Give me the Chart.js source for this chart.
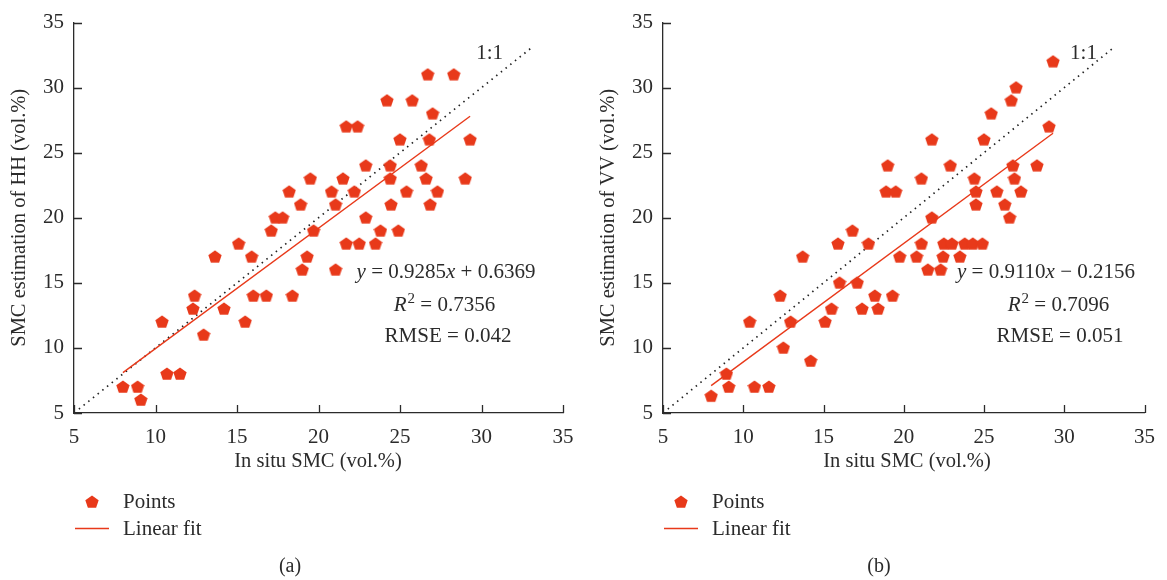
<!DOCTYPE html>
<html>
<head>
<meta charset="utf-8">
<script src="https://cdn.jsdelivr.net/npm/chart.js@4.4.1/dist/chart.umd.min.js"></script>
<style>
  html, body { margin: 0; padding: 0; background: #fff; }
  body { width: 1167px; height: 580px; position: relative; overflow: hidden; }
  .panel { position: absolute; top: 0; height: 580px; }
  #panelA { left: 0; width: 589px; }
  #panelB { left: 589px; width: 578px; }
</style>
</head>
<body>
<div class="panel" id="panelA"><canvas id="chartA"></canvas></div>
<div class="panel" id="panelB"><canvas id="chartB"></canvas></div>
<script>
// HH panel (a)
const hhX = [8.0, 8.9, 9.1, 10.4, 10.7, 11.5, 12.3, 12.4, 12.95, 13.65, 14.2, 15.1, 15.5, 15.9, 16.0, 16.8, 17.1, 17.35, 17.8, 18.2,
  18.4, 18.9, 19.0, 19.3, 19.5, 19.7, 20.8, 21.05, 21.05, 21.5, 21.7, 21.7, 22.2, 22.4, 22.5, 22.9, 22.9, 23.5, 23.8, 24.2,
  24.4, 24.4, 24.45, 24.9, 25.0, 25.4, 25.75, 26.3, 26.6, 26.7, 26.8, 26.85, 27.0, 27.3, 28.3, 29.0, 29.3];
const hhY = [7, 7, 6, 12, 8, 8, 13, 14, 11, 17, 13, 18, 12, 17, 14, 14, 19, 20, 20, 22,
  14, 21, 16, 17, 23, 19, 22, 21, 16, 23, 27, 18, 22, 27, 18, 24, 20, 18, 19, 29,
  24, 23, 21, 19, 26, 22, 29, 24, 23, 31, 26, 21, 28, 22, 31, 23, 26];
const hhFitX = [8.0, 29.3];
const hhFitY = [8.1, 27.8];

// VV panel (b)
const vvX = [8.0, 8.95, 9.1, 10.4, 10.7, 11.6, 12.3, 12.5, 12.95, 13.7, 14.2, 15.1, 15.5, 15.9, 16.0, 16.8, 17.1, 17.4, 17.8, 18.2,
  18.4, 18.9, 19.0, 19.3, 19.5, 19.75, 20.8, 21.1, 21.1, 21.5, 21.75, 21.75, 22.3, 22.45, 22.5, 22.9, 23.0, 23.5, 23.8, 24.3,
  24.4, 24.5, 24.5, 24.9, 25.0, 25.45, 25.8, 26.3, 26.6, 26.7, 26.8, 26.9, 27.0, 27.3, 28.3, 29.05, 29.3];
const vvY = [6.3, 8, 7, 12, 7, 7, 14, 10, 12, 17, 9, 12, 13, 18, 15, 19, 15, 13, 18, 14,
  13, 22, 24, 14, 22, 17, 17, 23, 18, 16, 26, 20, 16, 17, 18, 24, 18, 17, 18, 18,
  23, 22, 21, 18, 26, 28, 22, 21, 20, 29, 24, 23, 30, 22, 24, 27, 32];
const vvFitX = [8.0, 29.3];
const vvFitY = [7.1, 26.5];

// 1:1 reference line
const oneX = [5.3, 33];
const oneY = [5.3, 33];

const axisMin = 5;
const axisMax = 35;
const tickStep = 5;

const RED = "#e8391a";
const INK = "#2b2b2b";
const FONT = "'Liberation Serif', 'DejaVu Serif', serif";

function toPoints(xs, ys) {
  return xs.map((x, i) => ({ x, y: ys[i] }));
}

function pentagonCanvas(size, color) {
  const c = document.createElement("canvas");
  c.width = size;
  c.height = size;
  const g = c.getContext("2d");
  const r = size / 2;
  g.fillStyle = color;
  g.beginPath();
  for (let k = 0; k < 5; k++) {
    const a = -Math.PI / 2 + k * 2 * Math.PI / 5;
    const px = r + r * Math.cos(a);
    const py = r + 0.3 + r * Math.sin(a) * 0.98;
    if (k === 0) g.moveTo(px, py); else g.lineTo(px, py);
  }
  g.closePath();
  g.fill();
  return c;
}

const marker = pentagonCanvas(14, RED);

// draws text pieces (plain / italic / superscript) centred on cx
function drawRich(ctx, parts, cx, cy, size) {
  const fontFor = (p) => `${p.italic ? "italic " : ""}${p.sup ? Math.round(size * 0.7) : size}px ${FONT}`;
  let total = 0;
  for (const p of parts) {
    ctx.font = fontFor(p);
    total += ctx.measureText(p.t).width;
  }
  let x = cx - total / 2;
  ctx.textAlign = "left";
  ctx.textBaseline = "middle";
  for (const p of parts) {
    ctx.font = fontFor(p);
    ctx.fillText(p.t, x + (p.sup ? 1 : 0), p.sup ? cy - size * 0.3 : cy);
    x += ctx.measureText(p.t).width + (p.sup ? 1 : 0);
  }
}

function makePanel(id, cfg) {
  const extras = {
    id: "extras" + id,
    afterDraw(chart) {
      const { ctx, chartArea, scales } = chart;
      const xs = scales.x;
      const ys = scales.y;
      ctx.save();
      // inward tick marks
      ctx.strokeStyle = INK;
      ctx.lineWidth = 1.3;
      ctx.beginPath();
      for (const t of xs.ticks) {
        const px = Math.round(xs.getPixelForValue(t.value)) + 0.5;
        ctx.moveTo(px, chartArea.bottom);
        ctx.lineTo(px, chartArea.bottom - 8);
      }
      for (const t of ys.ticks) {
        const py = Math.round(ys.getPixelForValue(t.value)) + 0.5;
        ctx.moveTo(chartArea.left, py);
        ctx.lineTo(chartArea.left + 8, py);
      }
      ctx.stroke();

      ctx.fillStyle = INK;
      // axis titles
      ctx.font = `20.5px ${FONT}`;
      ctx.textAlign = "center";
      ctx.textBaseline = "middle";
      ctx.fillText("In situ SMC (vol.%)", 318, 462);
      ctx.save();
      ctx.translate(20, (chartArea.top + chartArea.bottom) / 2);
      ctx.rotate(-Math.PI / 2);
      ctx.fillText(cfg.yTitle, 0, 0);
      ctx.restore();

      // 1:1 label
      ctx.font = `21px ${FONT}`;
      ctx.fillText("1:1", xs.getPixelForValue(cfg.oneLabel[0]), ys.getPixelForValue(cfg.oneLabel[1]));

      // fit statistics
      drawRich(ctx, cfg.eqParts, chartArea.left + cfg.textCx[0], 272, 21);
      drawRich(ctx, [{ t: "R", italic: true }, { t: "2", sup: true }, { t: " = " + cfg.r2 }], chartArea.left + cfg.textCx[1], 305, 21);
      drawRich(ctx, [{ t: "RMSE = " + cfg.rmse }], chartArea.left + cfg.textCx[2], 336, 21);

      // legend
      const lx = chartArea.left;
      ctx.drawImage(marker, lx + 11, 495);
      ctx.strokeStyle = RED;
      ctx.lineWidth = 1.3;
      ctx.beginPath();
      ctx.moveTo(lx + 1, 528.5);
      ctx.lineTo(lx + 35, 528.5);
      ctx.stroke();
      ctx.font = `21px ${FONT}`;
      ctx.textAlign = "left";
      ctx.fillText("Points", lx + 49, 502);
      ctx.fillText("Linear fit", lx + 49, 529);

      // caption
      ctx.textAlign = "center";
      ctx.font = `20px ${FONT}`;
      ctx.fillText(cfg.caption, lx + 216, 567);
      ctx.restore();
    }
  };

  return new Chart(document.getElementById(id), {
    type: "scatter",
    data: {
      datasets: [
        {
          label: "Points",
          data: toPoints(cfg.xs, cfg.ys),
          pointStyle: marker,
          pointRadius: 7,
          backgroundColor: RED,
          borderColor: RED
        },
        {
          label: "Linear fit",
          data: toPoints(cfg.fitX, cfg.fitY),
          showLine: true,
          pointRadius: 0,
          borderColor: RED,
          borderWidth: 1.4,
          fill: false
        },
        {
          label: "1:1",
          data: toPoints(oneX, oneY),
          showLine: true,
          pointRadius: 0,
          borderColor: "#222",
          borderWidth: 1.7,
          borderDash: [1.5, 4.5],
          fill: false
        }
      ]
    },
    options: {
      responsive: false,
      animation: false,
      events: [],
      layout: { padding: { top: 20, right: cfg.padRight, left: 0, bottom: 0 } },
      plugins: { legend: { display: false }, tooltip: { enabled: false } },
      scales: {
        x: {
          type: "linear",
          min: axisMin,
          max: axisMax,
          afterFit: (s) => { s.height = 167; },
          grid: { display: false, drawTicks: false },
          border: { display: true, color: INK, width: 1.3 },
          ticks: { stepSize: tickStep, padding: 12, color: INK, font: { family: FONT, size: 21 } }
        },
        y: {
          type: "linear",
          min: axisMin,
          max: axisMax,
          afterFit: (s) => { s.width = 74; },
          grid: { display: false, drawTicks: false },
          border: { display: true, color: INK, width: 1.3 },
          ticks: { stepSize: tickStep, padding: 10, color: INK, font: { family: FONT, size: 21 } }
        }
      }
    },
    plugins: [extras]
  });
}

const canvasA = document.getElementById("chartA");
canvasA.width = 589; canvasA.height = 580;
const canvasB = document.getElementById("chartB");
canvasB.width = 578; canvasB.height = 580;

makePanel("chartA", {
  xs: hhX, ys: hhY, fitX: hhFitX, fitY: hhFitY,
  padRight: 26,
  yTitle: "SMC estimation of HH (vol.%)",
  oneLabel: [30.5, 32.6],
  eqParts: [{ t: "y", italic: true }, { t: " = 0.9285" }, { t: "x", italic: true }, { t: " + 0.6369" }],
  r2: "0.7356",
  rmse: "0.042",
  textCx: [372, 370, 374],
  caption: "(a)"
});

makePanel("chartB", {
  xs: vvX, ys: vvY, fitX: vvFitX, fitY: vvFitY,
  padRight: 15,
  yTitle: "SMC estimation of VV (vol.%)",
  oneLabel: [31.2, 32.6],
  eqParts: [{ t: "y", italic: true }, { t: " = 0.9110" }, { t: "x", italic: true }, { t: " \u2212 0.2156" }],
  r2: "0.7096",
  rmse: "0.051",
  textCx: [383, 395, 397],
  caption: "(b)"
});
</script>
</body>
</html>
